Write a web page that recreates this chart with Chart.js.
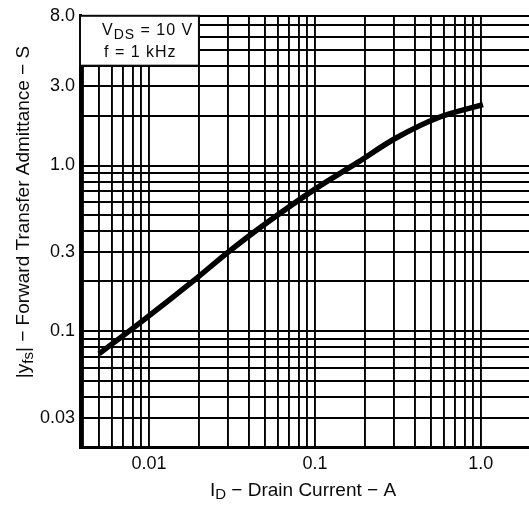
<!DOCTYPE html>
<html>
<head>
<meta charset="utf-8">
<title>Forward Transfer Admittance vs Drain Current</title>
<script src="https://cdn.jsdelivr.net/npm/chart.js@4.4.1/dist/chart.umd.min.js"></script>
<style>
    html, body { margin: 0; padding: 0; background: #fff; }
    #wrap { width: 529px; height: 506px; }
</style>
</head>
<body>
<div id="wrap"><canvas id="graphYfs" width="529" height="506"></canvas></div>
<script>
// values (A, S)
const drainCurrent = [0.005, 0.0091, 0.0195, 0.03, 0.048, 0.1, 0.18, 0.31, 0.566, 1.03];
const admittance = [0.073, 0.115, 0.21, 0.30, 0.43, 0.72, 1.04, 1.47, 1.96, 2.33];

const xTickLabels = [0.01, 0.1, 1.0];
const yTickLabels = [0.03, 0.1, 0.3, 1.0, 3.0, 8.0];
const xRange = [0.00384, 1.95];
const yRange = [0.02, 8.0];

const FONT = '"Liberation Sans", Arial, Helvetica, sans-serif';
const INK = '#0a0a0a';

// every 1..9 multiple of each decade inside the range
function logTicks(min, max) {
    const out = [];
    for (let e = Math.floor(Math.log10(min)); e <= Math.ceil(Math.log10(max)); e++) {
        for (let m = 1; m <= 9; m++) {
            const v = parseFloat((m * Math.pow(10, e)).toPrecision(6));
            if (v >= min * 0.999 && v <= max * 1.001) out.push(v);
        }
    }
    return out;
}
function hasLabel(list, v) {
    return list.some(t => Math.abs(t - v) / t < 1e-6);
}
function fmt(v) {
    return v >= 1 ? v.toFixed(1) : String(v);
}

// text made of runs (for subscripts)
function runsWidth(ctx, runs) {
    let w = 0;
    for (const r of runs) {
        ctx.font = r.size + 'px ' + FONT;
        w += ctx.measureText(r.text).width;
    }
    return w;
}
function drawRuns(ctx, x, y, runs) {
    let cx = x;
    for (const r of runs) {
        ctx.font = r.size + 'px ' + FONT;
        ctx.fillText(r.text, cx, y + (r.dy || 0));
        cx += ctx.measureText(r.text).width;
    }
}

const conditionBox = { x: 0.02, y: 4.0 };   // lower right corner, in data units

const extras = {
    id: 'extras',
    beforeDatasetsDraw(chart) {
        const { ctx, chartArea, scales } = chart;
        const left = chartArea.left, top = chartArea.top;
        const right = scales.x.getPixelForValue(conditionBox.x);
        const bottom = scales.y.getPixelForValue(conditionBox.y);
        ctx.save();
        ctx.fillStyle = '#fff';
        ctx.fillRect(left, top, right - left, bottom - top);
        ctx.strokeStyle = INK;
        ctx.lineWidth = 2;
        ctx.strokeRect(left, top, right - left, bottom - top);
        ctx.fillStyle = INK;
        ctx.textBaseline = 'alphabetic';
        ctx.textAlign = 'left';
        if ('letterSpacing' in ctx) ctx.letterSpacing = '1px';
        drawRuns(ctx, left + 22, top + 19, [
            { text: 'V', size: 16 },
            { text: 'DS', size: 14, dy: 4 },
            { text: ' = 10 V', size: 16 }
        ]);
        drawRuns(ctx, left + 24, top + 41, [
            { text: 'f = 1 kHz', size: 16 }
        ]);
        ctx.restore();
    },
    afterDraw(chart) {
        const ctx = chart.ctx;
        ctx.save();
        ctx.fillStyle = INK;
        ctx.textBaseline = 'alphabetic';
        ctx.textAlign = 'left';

        const xTitle = [
            { text: 'I', size: 19 },
            { text: 'D', size: 15, dy: 3 },
            { text: ' \u2212 Drain Current \u2212 A', size: 19 }
        ];
        drawRuns(ctx, 303 - runsWidth(ctx, xTitle) / 2, 496, xTitle);

        const yTitle = [
            { text: '|y', size: 19 },
            { text: 'fs', size: 15, dy: 4 },
            { text: '| \u2212 Forward Transfer Admittance \u2212 S', size: 19 }
        ];
        ctx.translate(29, 212);
        ctx.rotate(-Math.PI / 2);
        drawRuns(ctx, -runsWidth(ctx, yTitle) / 2, 0, yTitle);
        ctx.restore();
    }
};

const ctx = document.getElementById('graphYfs').getContext('2d');
new Chart(ctx, {
    type: 'scatter',
    data: {
        datasets: [{
            label: '|yfs|',
            data: drainCurrent.map((v, i) => ({ x: v, y: admittance[i] })),
            showLine: true,
            borderColor: '#000',
            borderWidth: 5.5,
            borderCapStyle: 'butt',
            pointRadius: 0,
            tension: 0.35,
            fill: false
        }]
    },
    options: {
        responsive: false,
        animation: false,
        layout: { padding: { top: 12, right: 0, left: 0, bottom: 0 } },
        plugins: { legend: { display: false }, tooltip: { enabled: false } },
        scales: {
            x: {
                type: 'logarithmic',
                min: xRange[0],
                max: xRange[1],
                afterBuildTicks: s => { s.ticks = logTicks(xRange[0], xRange[1]).map(v => ({ value: v })); },
                afterFit: s => { s.height = 59; },
                ticks: {
                    autoSkip: false,
                    maxRotation: 0,
                    padding: 6,
                    color: INK,
                    font: { family: FONT, size: 18 },
                    callback: v => hasLabel(xTickLabels, v) ? fmt(v) : ''
                },
                grid: { color: '#000', lineWidth: 1.9, drawTicks: false },
                border: { color: '#000', width: 3 }
            },
            y: {
                type: 'logarithmic',
                min: yRange[0],
                max: yRange[1],
                afterBuildTicks: s => { s.ticks = logTicks(yRange[0], yRange[1]).map(v => ({ value: v })); },
                afterFit: s => { s.width = 80; },
                ticks: {
                    autoSkip: false,
                    padding: 5,
                    color: INK,
                    font: { family: FONT, size: 18 },
                    callback: v => hasLabel(yTickLabels, v) ? fmt(v) : ''
                },
                grid: { color: '#000', lineWidth: 1.9, drawTicks: false },
                border: { color: '#000', width: 3 }
            }
        }
    },
    plugins: [extras]
});
</script>
</body>
</html>
